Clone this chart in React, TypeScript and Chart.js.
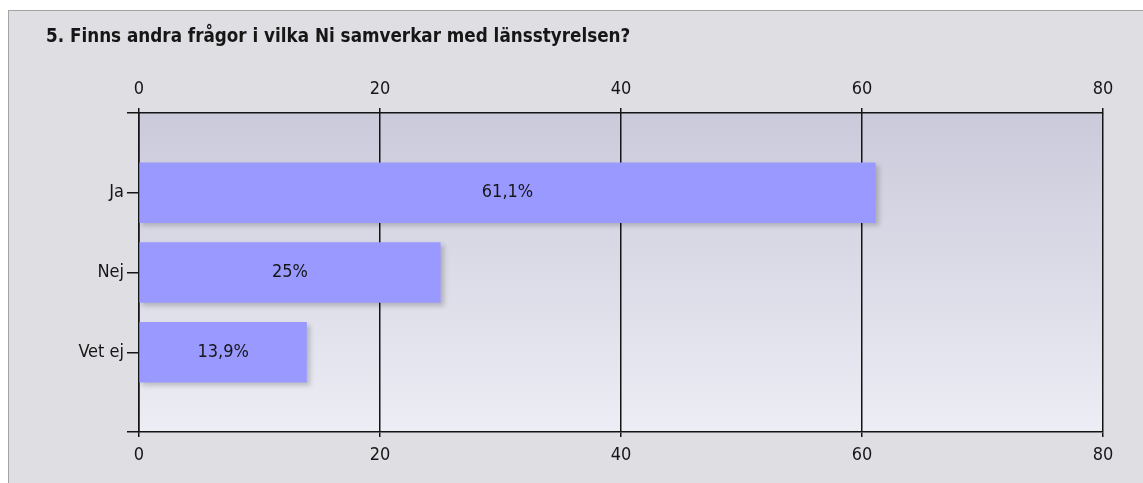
import React, { useEffect, useRef } from 'react';
import { Chart, registerables } from 'chart.js';

Chart.register(...registerables);

const TITLE = '5. Finns andra frågor i vilka Ni samverkar med länsstyrelsen?';
const CATEGORIES = ['Ja', 'Nej', 'Vet ej'];
const VALUES = [61.1, 25, 13.9];
const X_MIN = 0;
const X_MAX = 80;
const X_STEP = 20;

const FONT = "'DejaVu Sans Condensed', 'DejaVu Sans', sans-serif";
const W = 1143;
const H = 483;
const INK = '#161616';
const LINE = '#141414';

export default function App() {
  const ref = useRef<HTMLCanvasElement | null>(null);

  useEffect(() => {
    document.body.style.overflow = 'hidden';
    const canvas = ref.current;
    if (!canvas) return;

    const labels = ['', ...CATEGORIES, ''];
    const data = [null, ...VALUES, null];

    const bgPlugin = {
      id: 'bgPlugin',
      beforeDraw(chart: any) {
        const { ctx, chartArea: a } = chart;
        const g = ctx.createLinearGradient(0, a.top, 0, a.bottom);
        g.addColorStop(0, '#cacadb');
        g.addColorStop(1, '#ededf5');
        ctx.save();
        ctx.fillStyle = g;
        ctx.fillRect(a.left, a.top, a.right - a.left, a.bottom - a.top);
        ctx.restore();
      },
      beforeDatasetsDraw(chart: any) {
        const ctx = chart.ctx;
        ctx.save();
        ctx.shadowColor = 'rgba(0,0,0,0.2)';
        ctx.shadowBlur = 5;
        ctx.shadowOffsetX = 3;
        ctx.shadowOffsetY = 3;
      },
      afterDatasetsDraw(chart: any) {
        const ctx = chart.ctx;
        ctx.restore();
        const meta = chart.getDatasetMeta(0);
        ctx.save();
        ctx.font = `18px ${FONT}`;
        ctx.fillStyle = INK;
        ctx.textAlign = 'center';
        ctx.textBaseline = 'middle';
        meta.data.forEach((el: any, i: number) => {
          const v = data[i];
          if (v == null) return;
          const txt = String(v).replace('.', ',') + '%';
          ctx.fillText(txt, (el.x + el.base) / 2, el.y);
        });
        ctx.restore();
      },
      afterDraw(chart: any) {
        const ctx = chart.ctx;
        ctx.save();
        ctx.font = `bold 18.7px ${FONT}`;
        ctx.fillStyle = INK;
        ctx.textAlign = 'left';
        ctx.textBaseline = 'alphabetic';
        ctx.fillText(TITLE, 46, 42);
        ctx.restore();
      },
    };

    const tickFont = { family: FONT, size: 18 };

    const chart = new Chart(canvas, {
      type: 'bar',
      data: {
        labels,
        datasets: [
          {
            data,
            backgroundColor: '#9999ff',
            borderWidth: 0,
            barThickness: 60,
            xAxisID: 'x',
            yAxisID: 'y',
          } as any,
        ],
      },
      options: {
        indexAxis: 'y',
        responsive: false,
        animation: false,
        devicePixelRatio: 1,
        layout: { padding: { left: 0, right: 40, top: 0, bottom: 0 } },
        plugins: {
          legend: { display: false },
          tooltip: { enabled: false },
          title: { display: false },
        },
        scales: {
          x: {
            type: 'linear',
            position: 'bottom',
            min: X_MIN,
            max: X_MAX,
            ticks: { stepSize: X_STEP, color: INK, font: tickFont, padding: 8 },
            grid: { color: LINE, lineWidth: 1.5, tickLength: 5, drawTicks: true },
            border: { color: LINE, width: 1.5 },
            afterFit: (s: any) => {
              s.height = 51;
            },
          },
          x2: {
            type: 'linear',
            position: 'top',
            min: X_MIN,
            max: X_MAX,
            ticks: { stepSize: X_STEP, color: INK, font: tickFont, padding: 8 },
            grid: { drawOnChartArea: false, color: LINE, lineWidth: 1.5, tickLength: 5 },
            border: { color: LINE, width: 1.5 },
            afterFit: (s: any) => {
              s.height = 113;
            },
          },
          y: {
            type: 'category',
            offset: false,
            ticks: { color: INK, font: tickFont, padding: 3 },
            grid: { offset: false, drawOnChartArea: false, color: LINE, lineWidth: 1.5, tickLength: 12 },
            border: { color: LINE, width: 1.5 },
            afterFit: (s: any) => {
              s.width = 139;
            },
          },
        } as any,
      },
      plugins: [bgPlugin],
    });

    return () => chart.destroy();
  }, []);

  return (
    <>
      <div
        style={{
          position: 'fixed',
          left: 8,
          top: 10,
          width: 1160,
          height: 500,
          border: '1px solid #a3a3a3',
          background: '#dfdee3',
          boxSizing: 'border-box',
        }}
      />
      <canvas
        ref={ref}
        width={W}
        height={H}
        style={{ position: 'fixed', left: 0, top: 0, width: W, height: H, display: 'block' }}
      />
    </>
  );
}
